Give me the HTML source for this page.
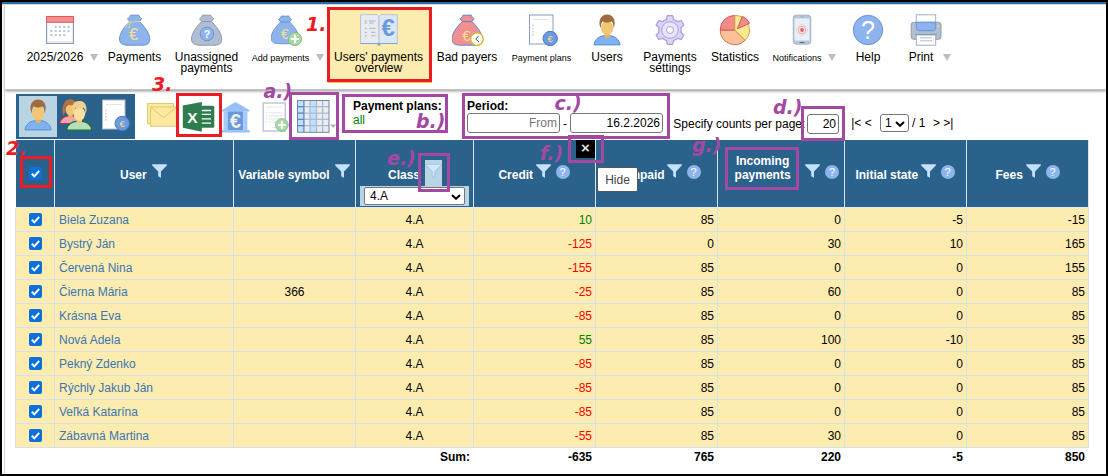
<!DOCTYPE html>
<html lang="en">
<head>
<meta charset="utf-8">
<title>Users' payments overview</title>
<style>
html,body{margin:0;padding:0;}
body{width:1108px;height:476px;overflow:hidden;background:#fff;position:relative;font-family:"Liberation Sans",Arial,sans-serif;font-size:12px;color:#000;}
.a{position:absolute;}
#page{left:0;top:0;width:1108px;height:476px;background:#fff;overflow:hidden;}
#frame{left:0;top:0;width:1108px;height:476px;box-sizing:border-box;border:2px solid #000;z-index:50;}
#topstrip{left:2px;top:2px;width:1104px;height:2px;background:#2a6ca6;border-bottom:1px solid #d9d5d5;}
#leftline{left:4px;top:5px;width:1px;height:469px;background:#d4d4d4;}
#tbshadow{left:5px;top:5px;width:1101px;height:84px;background:#fff;box-shadow:0 1px 3px rgba(0,0,0,.45);border-bottom:1px solid #c4c4c4;}
.lbl{position:absolute;top:52px;width:120px;margin-left:-60px;text-align:center;line-height:11px;font-size:12px;white-space:nowrap;}
.lbl.s{font-size:9px;top:53px;}
.ico{position:absolute;top:14px;width:32px;height:32px;margin-left:-16px;}
.arr{position:absolute;top:54px;width:0;height:0;border-left:4.5px solid transparent;border-right:4.5px solid transparent;border-top:7px solid #bdbdbd;}
.red{color:#ed1c24;font-family:"DejaVu Sans",sans-serif;font-weight:bold;font-style:italic;font-size:19px;line-height:20px;white-space:nowrap;}
.pur{color:#a349a4;font-family:"DejaVu Sans",sans-serif;font-weight:bold;font-style:italic;font-size:19px;line-height:20px;white-space:nowrap;}
.rbox{position:absolute;border:3px solid #ed1c24;box-sizing:border-box;}
.pbox{position:absolute;border:3px solid #a349a4;box-sizing:border-box;}
#sel{left:328px;top:9px;width:104px;height:72px;background:#fdecb0;border-bottom:2px solid #f5c842;}
#blk{left:16px;top:94px;width:119px;height:45px;background:#2b628c;}
#blksel{left:19px;top:96px;width:38px;height:41px;background:#b9d5e3;}
.inp{position:absolute;box-sizing:border-box;border:1px solid #767676;border-radius:3px;background:#fff;height:20px;line-height:18px;text-align:right;padding:0 2px;font-size:12px;}
table#t{position:absolute;left:15px;top:140px;border-collapse:separate;border-spacing:0;table-layout:fixed;width:1074px;}
#t th{background:#2b628c;color:#fff;font-weight:bold;font-size:12px;height:68px;padding:0;border-right:1px solid #dbe5ee;position:relative;}
#t th:first-child{border-left:1px solid #fff;}
#t td{background:#fdecb0;height:18px;padding:5px 3px 0 3px;vertical-align:top;border-right:1px solid #d6e1ec;border-bottom:1px solid #d6e1ec;font-size:12px;line-height:14px;text-align:right;white-space:nowrap;overflow:hidden;}
#t td:first-child{border-left:1px solid #d6e1ec;}
#t td.c{text-align:center;}
#t td.l{text-align:left;color:#3b76b0;padding-left:4px;}
#t td.g{color:#008000;}
#t td.r{color:#ff0000;}
#t tr.sum td{background:#fff;border-color:#fff;font-weight:bold;height:17px;vertical-align:top;padding-top:2px;}
.cb{display:block;width:13px;height:13px;margin:0 auto;}
.ht{position:absolute;top:168px;line-height:14px;color:#fff;font-weight:bold;font-size:12px;white-space:nowrap;}
.fn{position:absolute;top:164px;width:15px;height:14px;}
.q{position:absolute;top:164.5px;width:14px;height:14px;border-radius:7px;background:#8cb5ee;color:#fff;font-size:11px;line-height:15px;text-align:center;}
#clsel{left:360px;top:186px;width:109px;height:20px;background:#b9d5e3;}
.selbox{left:364px;top:187px;width:101px;height:18px;box-sizing:border-box;border:1px solid #767676;border-radius:2px;background:#fff;color:#000;padding-left:5px;line-height:16px;font-size:12px;}
</style>
</head>
<body>
<div id="page" class="a">
<div id="tbshadow" class="a"></div>
<div id="topstrip" class="a"></div>
<div id="leftline" class="a"></div>
<div id="sel" class="a"></div>
<div id="toolbar"><svg class="ico" style="left:60px" viewBox="0 0 32 32"><rect x="2.6" y="2.6" width="26.8" height="26.8" fill="#fff" stroke="#8a9cb4" stroke-width="1.2"/><path d="M3.5 27.5H28.500" stroke="#dce8f4" stroke-width="0.8"/><rect x="2.5" y="2.500" width="27" height="5.800" fill="#f78d8d" stroke="#d65f5f"/><g fill="#bccad9"><rect x="10.60" y="11.70" width="2.200" height="2.200"/><rect x="14.80" y="11.70" width="2.200" height="2.200"/><rect x="19.10" y="11.70" width="2.200" height="2.200"/><rect x="23.50" y="11.70" width="2.200" height="2.200"/><rect x="6.20" y="15.90" width="2.200" height="2.200"/><rect x="10.60" y="15.90" width="2.200" height="2.200"/><rect x="14.80" y="15.90" width="2.200" height="2.200"/><rect x="19.10" y="15.90" width="2.200" height="2.200"/><rect x="23.50" y="15.90" width="2.200" height="2.200"/><rect x="6.20" y="20.10" width="2.200" height="2.200"/><rect x="10.60" y="20.10" width="2.200" height="2.200"/><rect x="14.80" y="20.10" width="2.200" height="2.200"/><rect x="19.10" y="20.10" width="2.200" height="2.200"/></g></svg>
<svg class="ico" style="left:134.500px" viewBox="0 0 32 32"><path d="M10.8 7.5 C6 12 0.5 19 0.5 25 C0.5 29 3 31 8 31.2 L24 31.2 C29 31 30.7 29 30.7 25 C30.7 19 25 12 20.5 7.5 Z" fill="#8db4ec" stroke="#6a93d0" stroke-width="1" stroke-linejoin="round"/><path d="M11.5 1.2 L19.8 1.2 C20.5 3 21.5 4 22.7 4.8 L20.5 7.5 L10.8 7.5 L8.5 4.8 C9.8 4 10.8 3 11.5 1.2 Z" fill="#8db4ec" stroke="#6a93d0" stroke-width="1" stroke-linejoin="round"/><path d="M9 8 L21 7.500 M10.500 8 C8.500 9.500 7 12 6.500 14 M12 8 C10.500 10 10 12.500 10 14.500" fill="none" stroke="#f5dc88" stroke-width="0.900"/><text x="14.7" y="26" font-family="Liberation Sans,Arial,sans-serif" font-size="16.5" fill="#fbe08a" text-anchor="middle">€</text></svg>
<svg class="ico" style="left:207px" viewBox="0 0 32 32"><path d="M10.8 7.5 C6 12 0.5 19 0.5 25 C0.5 29 3 31 8 31.2 L24 31.2 C29 31 30.7 29 30.7 25 C30.7 19 25 12 20.5 7.5 Z" fill="#b0bdd2" stroke="#8c9ab2" stroke-width="1" stroke-linejoin="round"/><path d="M11.5 1.2 L19.8 1.2 C20.5 3 21.5 4 22.7 4.8 L20.5 7.5 L10.8 7.5 L8.5 4.8 C9.8 4 10.8 3 11.5 1.2 Z" fill="#b0bdd2" stroke="#8c9ab2" stroke-width="1" stroke-linejoin="round"/><circle cx="16" cy="20" r="6.800" fill="#8db4ec" stroke="#6a93d0"/><text x="16" y="23.800" font-family="Liberation Sans,Arial,sans-serif" font-size="10.500" font-weight="bold" fill="#fff" text-anchor="middle">?</text></svg>
<svg class="ico" style="left:287px" viewBox="0 0 32 32"><g transform="translate(-0.300,1) scale(0.920)"><path d="M10.8 7.5 C6 12 0.5 19 0.5 25 C0.5 29 3 31 8 31.2 L24 31.2 C29 31 30.7 29 30.7 25 C30.7 19 25 12 20.5 7.5 Z" fill="#8db4ec" stroke="#6a93d0" stroke-width="1" stroke-linejoin="round"/><path d="M11.5 1.2 L19.8 1.2 C20.5 3 21.5 4 22.7 4.8 L20.5 7.5 L10.8 7.5 L8.5 4.8 C9.8 4 10.8 3 11.5 1.2 Z" fill="#8db4ec" stroke="#6a93d0" stroke-width="1" stroke-linejoin="round"/><text x="15.5" y="26.5" font-family="Liberation Sans,Arial,sans-serif" font-size="15" fill="#fbe08a" text-anchor="middle">€</text></g><circle cx="24" cy="25" r="6.600" fill="#a8d8a8" stroke="#86c086"/><path d="M24 20.800 V29.200 M19.800 25 H28.200" stroke="#fff" stroke-width="2.200"/></svg>
<svg class="ico" style="left:378.500px;width:38px;margin-left:-19px" viewBox="0 0 38 32"><path d="M0.500 0.800 L17 0.500 L19 2.500 L19 29.500 L0.500 29.500 Z" fill="#e8ecf0" stroke="#b8c4d4" stroke-width="1"/><path d="M37.300 0.800 L21 0.500 L19 2.500 L19 29.500 L37.300 29.500 Z" fill="#dce8f4" stroke="#b8c4d4" stroke-width="1"/><path d="M0.500 29.500 H37.300" stroke="#7ba3dc" stroke-width="1.200"/><path d="M4.800 7H7M9 7H15.500M4.800 9H7M9 9H13.500M4.800 14.300H7M9 14.300H15.500M4.800 18.400H7M11 18.400H15.500M4.800 21.800H7M11 21.800H15.500" stroke="#a8b0bc" stroke-width="0.900"/><path d="M17.500 29.500 L20.500 29.500 L20.500 31.200 L19 31.800 L17.500 31.200 Z" fill="#7ba3dc"/><text x="28.3" y="22.3" font-family="Liberation Sans,Arial,sans-serif" font-size="24" font-weight="bold" fill="#6a9ade" text-anchor="middle">€</text></svg>
<svg class="ico" style="left:467.500px" viewBox="0 0 32 32"><g transform="translate(-0.500,0)"><path d="M10.8 7.5 C6 12 0.5 19 0.5 25 C0.5 29 3 31 8 31.2 L24 31.2 C29 31 30.7 29 30.7 25 C30.7 19 25 12 20.5 7.5 Z" fill="#f09090" stroke="#5b88cc" stroke-width="1" stroke-linejoin="round"/><path d="M11.5 1.2 L19.8 1.2 C20.5 3 21.5 4 22.7 4.8 L20.5 7.5 L10.8 7.5 L8.5 4.8 C9.8 4 10.8 3 11.5 1.2 Z" fill="#f09090" stroke="#5b88cc" stroke-width="1" stroke-linejoin="round"/><text x="15" y="26.5" font-family="Liberation Sans,Arial,sans-serif" font-size="15" fill="#fbe08a" text-anchor="middle">€</text></g><circle cx="24.900" cy="25" r="6.300" fill="#fff" stroke="#d8b840" stroke-width="1.500"/><path d="M26.800 21.800 L23.800 25 L26.800 28" fill="none" stroke="#555" stroke-width="1"/></svg>
<svg class="ico" style="left:543.500px" viewBox="0 0 32 32"><rect x="1.500" y="1" width="23.5" height="29" fill="#fff" stroke="#8a9cc0"/><path d="M5 5.500H21.5" stroke="#dfe5ee"/><g fill="#c9d3e1"><rect x="4" y="10.500" width="1.600" height="1.600"/><rect x="4" y="14" width="1.600" height="1.600"/><rect x="4" y="17" width="1.600" height="1.600"/><rect x="4" y="20" width="1.600" height="1.600"/></g><circle cx="22.2" cy="24.500" r="7.200" fill="#6a9ae0" stroke="#4a78c8"/><text x="22.2" y="27.7" font-family="Liberation Sans,Arial,sans-serif" font-size="9.5" fill="#fbe08a" text-anchor="middle">€</text></svg>
<svg class="ico" style="left:607px" viewBox="0 0 32 32"><path d="M3 30.900 C3.500 25 9 21.700 13.500 21.700 L18.500 21.700 C23 21.700 28.600 25 29.100 30.900 Z" fill="#80b2f2" stroke="#5b8bd2" stroke-width="1" stroke-linejoin="round"/><path d="M13.300 17 L13.300 22 C14.300 25 18 25 19 22 L19 17 Z" fill="#e5b35f"/><ellipse cx="16.150" cy="13.900" rx="6.100" ry="7.100" fill="#f3c673"/><path d="M9.6 14.2 C7.2 9 8.4 0.6 16.1 0.6 C23.800 0.6 25 9 22.700 14.200 L22.300 11.500 C22.200 9.800 21.600 8.600 20.700 7.600 C17.500 9 13.500 8.800 11.500 7.200 C10.700 8.600 10.100 10 10 11.500 Z" fill="#a26d3e"/></svg>
<svg class="ico" style="left:670px" viewBox="0 0 32 32"><path d="M13.40 1.53 L18.60 1.53 L19.49 5.25 L23.56 7.60 L27.23 6.51 L29.83 11.02 L27.05 13.65 L27.05 18.35 L29.83 20.98 L27.23 25.49 L23.56 24.40 L19.49 26.75 L18.60 30.47 L13.40 30.47 L12.51 26.75 L8.44 24.40 L4.77 25.49 L2.17 20.98 L4.95 18.35 L4.95 13.65 L2.17 11.02 L4.77 6.51 L8.44 7.60 L12.51 5.25 Z" fill="#dcd4f6" stroke="#ae9ee0" stroke-width="1.300" stroke-linejoin="round"/><circle cx="16" cy="16" r="8.300" fill="#eae6fa" stroke="#ae9ee0"/><circle cx="16" cy="16" r="3.500" fill="#fff" stroke="#ae9ee0"/></svg>
<svg class="ico" style="left:735px" viewBox="0 0 32 32"><path d="M15.8 16 L26.12 26.32 A14.6 14.6 0 0 1 1.20 16.00 Z" fill="#fdc098" stroke="#c87848" stroke-linejoin="round"/><path d="M15.8 16 L1.20 16.00 A14.6 14.6 0 0 1 15.80 1.40 Z" fill="#f58a8a" stroke="#d05858" stroke-linejoin="round"/><path d="M15.8 16 L15.80 1.40 A14.6 14.6 0 0 1 26.12 26.32 Z" fill="#fde890" stroke="#c8a448" stroke-linejoin="round"/><path d="M18.400000000000002 14.7 L23.38 2.37 A13.3 13.3 0 0 1 30.55 9.29 Z" fill="#f58a8a" stroke="#d05858" stroke-linejoin="round"/></svg>
<svg class="ico" style="left:802px" viewBox="0 0 32 32"><rect x="7.300" y="1.200" width="17.500" height="29" rx="3" fill="#b8c8dc" stroke="#a0b2cc"/><rect x="8.500" y="4.500" width="15" height="22" fill="#e8f0f8"/><path d="M14.500 2.800H17.500" stroke="#8fa4bf" stroke-width="0.800"/><path d="M13.500 28.500H18.500" stroke="#5a6a80" stroke-width="1"/><circle cx="16" cy="16" r="5.300" fill="none" stroke="#f8c8c8" stroke-width="0.900"/><circle cx="16" cy="16" r="3.600" fill="none" stroke="#f0a0a0" stroke-width="0.900"/><circle cx="16" cy="16" r="1.900" fill="#e86060"/></svg>
<svg class="ico" style="left:868px" viewBox="0 0 32 32"><circle cx="16" cy="16" r="14.700" fill="#8db4ee" stroke="#6a93d0"/><text x="16" y="25.300" font-family="Liberation Sans,Arial,sans-serif" font-size="25" fill="#fff" text-anchor="middle">?</text></svg>
<svg class="ico" style="left:926px" viewBox="0 0 32 32"><rect x="6.300" y="0.800" width="19.400" height="9" fill="#fff" stroke="#a0b0c4"/><rect x="1.200" y="8.300" width="29.800" height="17" rx="2.500" fill="#b0bfd4" stroke="#8c9cb4"/><path d="M6.300 8.300 H25.700 V13.500 C25.700 15.500 24.500 16.700 22.500 16.700 H9.500 C7.500 16.700 6.300 15.500 6.300 13.500 Z" fill="#8db4ee" stroke="#6a93d0"/><path d="M5.300 20.500H26.700" stroke="#7888a0" stroke-width="1.200"/><rect x="6.300" y="21" width="19.400" height="10.200" fill="#fff" stroke="#a0b0c4"/><path d="M10 23.800H22M10 26.800H22" stroke="#b0bccc"/><circle cx="28.200" cy="12" r="0.900" fill="#f5dc70"/></svg>

<div class="lbl" style="left:55px">2025/2026</div><div class="arr" style="left:89.500px"></div>
<div class="lbl" style="left:134.500px">Payments</div>
<div class="lbl" style="left:206.500px">Unassigned<br>payments</div>
<div class="lbl s" style="left:280.500px">Add payments</div><div class="arr" style="left:315.500px"></div>
<div class="lbl" style="left:378.500px">Users' payments<br>overview</div>
<div class="lbl" style="left:467px">Bad payers</div>
<div class="lbl s" style="left:541.500px">Payment plans</div>
<div class="lbl" style="left:607px">Users</div>
<div class="lbl" style="left:670px">Payments<br>settings</div>
<div class="lbl" style="left:735px">Statistics</div>
<div class="lbl s" style="left:797px">Notifications</div><div class="arr" style="left:827.500px"></div>
<div class="lbl" style="left:868px">Help</div>
<div class="lbl" style="left:921px">Print</div><div class="arr" style="left:943px"></div>
</div>
<div id="row2">
<div id="blk" class="a"></div><div id="blksel" class="a"></div>
<svg class="a" style="left:22px;top:99px;width:32px;height:32px" viewBox="0 0 32 32"><path d="M3 30.900 C3.500 25 9 21.700 13.500 21.700 L18.500 21.700 C23 21.700 28.600 25 29.100 30.900 Z" fill="#80b2f2" stroke="#5b8bd2" stroke-width="1" stroke-linejoin="round"/><path d="M13.300 17 L13.300 22 C14.300 25 18 25 19 22 L19 17 Z" fill="#e5b35f"/><ellipse cx="16.150" cy="13.900" rx="6.100" ry="7.100" fill="#f3c673"/><path d="M9.6 14.2 C7.2 9 8.4 0.6 16.1 0.6 C23.800 0.6 25 9 22.700 14.200 L22.300 11.500 C22.200 9.800 21.600 8.600 20.700 7.600 C17.500 9 13.500 8.800 11.500 7.200 C10.700 8.600 10.100 10 10 11.500 Z" fill="#a26d3e"/></svg>
<svg class="a" style="left:58px;top:98px;width:36px;height:34px" viewBox="0 0 36 34">
<g transform="translate(-0.500,0.700) scale(0.800)"><path d="M3 30.900 C3.500 25 9 21.700 13.500 21.700 L18.500 21.700 C23 21.700 28.600 25 29.100 30.900 Z" fill="#f5a3ad" stroke="#c03050" stroke-width="1.3" stroke-linejoin="round"/><path d="M13.300 17 L13.300 22 C14.300 25 18 25 19 22 L19 17 Z" fill="#e5b35f"/><ellipse cx="16.150" cy="13.900" rx="6.100" ry="7.100" fill="#f3c673"/><path d="M7 21 C5 12 7 0.6 16 0.6 C25 0.6 27 12 25 21 C23.5 20 22.3 16 22.2 12.5 C22.2 10 21.5 8.5 20.5 7.2 C17.5 8.8 13.5 8.5 11.3 6.8 C10.5 8.5 10 10.5 10.1 12.5 C10 16 8.500 20 7 21 Z" fill="#b87040"/></g>
<g transform="translate(5.800,2.500) scale(0.960)"><path d="M3 30.900 C3.500 25 9 21.700 13.500 21.700 L18.500 21.700 C23 21.700 28.600 25 29.100 30.900 Z" fill="#b8e0b8" stroke="#107030" stroke-width="1.2" stroke-linejoin="round"/><path d="M13.300 17 L13.300 22 C14.300 25 18 25 19 22 L19 17 Z" fill="#f0c77e"/><ellipse cx="16.150" cy="13.900" rx="6.100" ry="7.100" fill="#fde0a0"/><path d="M9.6 14.2 C7.2 9 8.4 0.6 16.1 0.6 C23.800 0.6 25 9 22.700 14.200 L22.300 11.500 C22.200 9.800 21.600 8.600 20.700 7.600 C17.500 9 13.500 8.800 11.500 7.200 C10.700 8.600 10.100 10 10 11.500 Z" fill="#f0d090"/></g></svg>
<svg class="a" style="left:101px;top:99px;width:32px;height:32px" viewBox="0 0 32 32"><rect x="1.500" y="1" width="22.5" height="29" fill="#fff" stroke="#b0b8c8"/><path d="M5 5.500H20.5" stroke="#dfe5ee"/><g fill="#c9d3e1"><rect x="4" y="10.500" width="1.600" height="1.600"/><rect x="4" y="14" width="1.600" height="1.600"/><rect x="4" y="17" width="1.600" height="1.600"/><rect x="4" y="20" width="1.600" height="1.600"/></g><circle cx="21.2" cy="24.500" r="7.200" fill="#6a9ae0" stroke="#4a78c8"/><text x="21.2" y="27.7" font-family="Liberation Sans,Arial,sans-serif" font-size="9.5" fill="#fbe08a" text-anchor="middle">€</text></svg>

<svg class="a" style="left:146px;top:102px;width:32px;height:26px" viewBox="0 0 32 26"><rect x="1.600" y="1.500" width="25.800" height="20.200" fill="#fdeaa0" stroke="#e0c870"/><rect x="4.600" y="5" width="27" height="19.300" fill="#fdeaa0" stroke="#e0c870"/><path d="M4.600 5 L17.500 15.500 L31 5" fill="none" stroke="#e0c870"/></svg>
<svg class="a" style="left:182px;top:101px;width:34px;height:32px" viewBox="0 0 34 32"><rect x="18" y="4.800" width="14.300" height="22" rx="1.500" fill="#2d7d4f"/><path d="M22 9.500H29M22 13.300H29M22 17.800H29M22 22.100H29" stroke="#fff" stroke-width="1.300"/><path d="M0.800 4.500 L19.800 1 L19.800 30.700 L0.800 26.800 Z" fill="#2d7d4f"/><path d="M19.800 9.500H22M19.800 13.300H22M19.800 17.800H22M19.800 22.100H22" stroke="#fff" stroke-width="1.300"/><text x="10.400" y="21.700" font-family="Liberation Sans,Arial,sans-serif" font-size="15.500" font-weight="bold" fill="#fff" text-anchor="middle">X</text></svg>
<svg class="a" style="left:221px;top:101px;width:30px;height:32px" viewBox="0 0 30 32"><path d="M14.500 1 L28.300 9 L28.300 10.500 L1 10.500 L1 9 Z" fill="#98c0f8"/><rect x="6.400" y="10.400" width="15.800" height="18.700" fill="#6898e0"/><rect x="2.500" y="10.400" width="3.900" height="18.700" fill="#a8c8f8"/><rect x="22.200" y="10.400" width="4.200" height="18.700" fill="#a8c8f8"/><rect x="1" y="29.100" width="27.700" height="2.400" fill="#98c0f8"/><text x="14.300" y="27.300" font-family="Liberation Sans,Arial,sans-serif" font-size="20" font-weight="bold" fill="#f0f0e8" text-anchor="middle">€</text></svg>
<svg class="a" style="left:261px;top:101px;width:30px;height:32px" viewBox="0 0 30 32"><rect x="2.200" y="2" width="22" height="28" fill="#fff" stroke="#c0c8d4" stroke-width="1.500"/><path d="M5 6H21M7.500 11.700H21M7.500 14.900H21M7.500 18H21M7.500 21H21M11 26.500H15" stroke="#e2e6ec"/><path d="M4.500 11.700H6M4.500 14.900H6M4.500 18H6M4.500 21H6" stroke="#d0d8e4"/><circle cx="20.900" cy="24" r="6.300" fill="#a8d8a8" stroke="#88c088"/><path d="M20.900 20 V28 M16.900 24 H24.900" stroke="#fff" stroke-width="2"/></svg>
<svg class="a" style="left:296.500px;top:99.700px;width:40px;height:33px" viewBox="0 0 40 33"><rect x="0.500" y="0.500" width="31.500" height="31.800" fill="#ececec"/><rect x="0.5" y="0.500" width="6.4" height="31.800" fill="#c0e0fc"/><rect x="13.0" y="0.500" width="6.5" height="31.800" fill="#c0e0fc"/><path d="M0.500 6.7H32M0.500 13.1H32M0.500 19.4H32M0.500 25.7H32M13.0 0.500V32.300M19.5 0.500V32.300M25.6 0.500V32.300" stroke="#a8bcd8" stroke-width="1.300"/><path d="M6.9 0.500V32.300" stroke="#6088c0" stroke-width="1.300"/><path d="M0.500 6.700H6.900M0.500 13.100H6.900M0.500 19.400H6.900M0.500 25.700H6.900" stroke="#6088c0" stroke-width="1.300"/><rect x="0.500" y="0.500" width="31.500" height="31.800" fill="none" stroke="#7088a8"/><path d="M33.200 24.500 L39.200 24.500 L36.200 28 Z" fill="#b0b0b0"/></svg>

<div class="a" style="left:353px;top:99px;font-weight:bold;line-height:14px;">Payment plans:</div>
<div class="a" style="left:353px;top:113px;color:#008000;line-height:14px;">all</div>
<div class="a" style="left:467px;top:99px;font-weight:bold;line-height:14px;">Period:</div>
<div class="inp" style="left:467px;top:113px;width:93px;color:#757575;">From</div>
<div class="a" style="left:563px;top:117px;line-height:14px;">-</div>
<div class="inp" style="left:570px;top:113px;width:93px;">16.2.2026</div>
<div class="a" style="left:673.300px;top:117px;line-height:14px;">Specify counts per page:</div>
<div class="inp" style="left:807px;top:114px;width:32px;">20</div>
<div class="a" style="left:851.200px;top:116px;line-height:14px;">|&lt; &lt;</div>
<div class="inp" style="left:880px;top:114px;width:29px;height:18px;line-height:16px;text-align:left;padding-left:4px;border-radius:3px;">1<svg style="position:absolute;right:3.500px;top:6px;width:10px;height:6px" viewBox="0 0 10 6"><path d="M1 1 L5 4.800 L9 1" fill="none" stroke="#000" stroke-width="2"/></svg></div>
<div class="a" style="left:912px;top:116px;line-height:14px;">/ 1</div>
<div class="a" style="left:933px;top:116px;line-height:14px;">&gt; &gt;|</div>
</div>
<div id="tablewrap">
<table id="t">
<colgroup><col style="width:40px"><col style="width:179px"><col style="width:122px"><col style="width:118px"><col style="width:122px"><col style="width:122px"><col style="width:127px"><col style="width:122px"><col style="width:122px"></colgroup>
<thead><tr><th></th><th></th><th></th><th></th><th></th><th></th><th></th><th></th><th></th></tr></thead>
<tbody>
<tr><td class="c"><svg class="cb" viewBox="0 0 13 13"><rect width="13" height="13" rx="2" fill="#0b70d9"/><path d="M2.8 6.8 L5.3 9.3 L10.2 3.8" fill="none" stroke="#fff" stroke-width="2"/></svg></td><td class="l">Biela Zuzana</td><td class="c"></td><td class="c">4.A</td><td class="g">10</td><td>85</td><td>0</td><td>-5</td><td>-15</td></tr>
<tr><td class="c"><svg class="cb" viewBox="0 0 13 13"><rect width="13" height="13" rx="2" fill="#0b70d9"/><path d="M2.8 6.8 L5.3 9.3 L10.2 3.8" fill="none" stroke="#fff" stroke-width="2"/></svg></td><td class="l">Bystrý Ján</td><td class="c"></td><td class="c">4.A</td><td class="r">-125</td><td>0</td><td>30</td><td>10</td><td>165</td></tr>
<tr><td class="c"><svg class="cb" viewBox="0 0 13 13"><rect width="13" height="13" rx="2" fill="#0b70d9"/><path d="M2.8 6.8 L5.3 9.3 L10.2 3.8" fill="none" stroke="#fff" stroke-width="2"/></svg></td><td class="l">Červená Nina</td><td class="c"></td><td class="c">4.A</td><td class="r">-155</td><td>85</td><td>0</td><td>0</td><td>155</td></tr>
<tr><td class="c"><svg class="cb" viewBox="0 0 13 13"><rect width="13" height="13" rx="2" fill="#0b70d9"/><path d="M2.8 6.8 L5.3 9.3 L10.2 3.8" fill="none" stroke="#fff" stroke-width="2"/></svg></td><td class="l">Čierna Mária</td><td class="c">366</td><td class="c">4.A</td><td class="r">-25</td><td>85</td><td>60</td><td>0</td><td>85</td></tr>
<tr><td class="c"><svg class="cb" viewBox="0 0 13 13"><rect width="13" height="13" rx="2" fill="#0b70d9"/><path d="M2.8 6.8 L5.3 9.3 L10.2 3.8" fill="none" stroke="#fff" stroke-width="2"/></svg></td><td class="l">Krásna Eva</td><td class="c"></td><td class="c">4.A</td><td class="r">-85</td><td>85</td><td>0</td><td>0</td><td>85</td></tr>
<tr><td class="c"><svg class="cb" viewBox="0 0 13 13"><rect width="13" height="13" rx="2" fill="#0b70d9"/><path d="M2.8 6.8 L5.3 9.3 L10.2 3.8" fill="none" stroke="#fff" stroke-width="2"/></svg></td><td class="l">Nová Adela</td><td class="c"></td><td class="c">4.A</td><td class="g">55</td><td>85</td><td>100</td><td>-10</td><td>35</td></tr>
<tr><td class="c"><svg class="cb" viewBox="0 0 13 13"><rect width="13" height="13" rx="2" fill="#0b70d9"/><path d="M2.8 6.8 L5.3 9.3 L10.2 3.8" fill="none" stroke="#fff" stroke-width="2"/></svg></td><td class="l">Pekný Zdenko</td><td class="c"></td><td class="c">4.A</td><td class="r">-85</td><td>85</td><td>0</td><td>0</td><td>85</td></tr>
<tr><td class="c"><svg class="cb" viewBox="0 0 13 13"><rect width="13" height="13" rx="2" fill="#0b70d9"/><path d="M2.8 6.8 L5.3 9.3 L10.2 3.8" fill="none" stroke="#fff" stroke-width="2"/></svg></td><td class="l">Rýchly Jakub Ján</td><td class="c"></td><td class="c">4.A</td><td class="r">-85</td><td>85</td><td>0</td><td>0</td><td>85</td></tr>
<tr><td class="c"><svg class="cb" viewBox="0 0 13 13"><rect width="13" height="13" rx="2" fill="#0b70d9"/><path d="M2.8 6.8 L5.3 9.3 L10.2 3.8" fill="none" stroke="#fff" stroke-width="2"/></svg></td><td class="l">Veľká Katarína</td><td class="c"></td><td class="c">4.A</td><td class="r">-85</td><td>85</td><td>0</td><td>0</td><td>85</td></tr>
<tr><td class="c"><svg class="cb" viewBox="0 0 13 13"><rect width="13" height="13" rx="2" fill="#0b70d9"/><path d="M2.8 6.8 L5.3 9.3 L10.2 3.8" fill="none" stroke="#fff" stroke-width="2"/></svg></td><td class="l">Zábavná Martina</td><td class="c"></td><td class="c">4.A</td><td class="r">-55</td><td>85</td><td>30</td><td>0</td><td>85</td></tr>
<tr class="sum"><td></td><td></td><td></td><td>Sum:</td><td>-635</td><td>765</td><td>220</td><td>-5</td><td>850</td></tr>
</tbody>
</table>
<div class="a" style="left:16px;top:207px;width:1073px;height:1px;background:#e3eaf0"></div>
<div class="a" style="left:29px;top:167px;width:13px;height:13px"><svg class="cb" viewBox="0 0 13 13"><rect width="13" height="13" rx="2" fill="#0b70d9"/><path d="M2.8 6.8 L5.3 9.3 L10.2 3.8" fill="none" stroke="#fff" stroke-width="2"/></svg></div>
<div class="ht" style="left:120px">User</div><svg class="fn" style="left:151.7px" viewBox="0 0 15 14"><path d="M0.2 0.2 H14.8 V1.5 L9 7.5 V13.8 L6.2 12.3 V7.5 L0.2 1.5 Z" fill="#c4e2ff"/></svg>
<div class="ht" style="left:238.3px">Variable symbol</div><svg class="fn" style="left:335px" viewBox="0 0 15 14"><path d="M0.2 0.2 H14.8 V1.5 L9 7.5 V13.8 L6.2 12.3 V7.5 L0.2 1.5 Z" fill="#c4e2ff"/></svg>
<div class="a" style="left:425px;top:160px;width:17px;height:26px;background:#b9d5e3"></div>
<div class="ht" style="left:388px">Class</div><svg class="fn" style="left:426.2px" viewBox="0 0 15 14"><path d="M0.2 0.2 H14.8 V1.5 L9 7.5 V13.8 L6.2 12.3 V7.5 L0.2 1.5 Z" fill="#d2e8ff" stroke="#8db6e6" stroke-width="0.8"/></svg>
<div id="clsel" class="a"></div><div class="selbox a">4.A<svg style="position:absolute;right:3.5px;top:6px;width:10px;height:6px" viewBox="0 0 10 6"><path d="M1 1 L5 4.8 L9 1" fill="none" stroke="#000" stroke-width="2"/></svg></div>
<div class="ht" style="left:498.4px">Credit</div><svg class="fn" style="left:536px" viewBox="0 0 15 14"><path d="M0.2 0.2 H14.8 V1.5 L9 7.5 V13.8 L6.2 12.3 V7.5 L0.2 1.5 Z" fill="#c4e2ff"/></svg><div class="q" style="left:555.5px">?</div>
<div class="ht" style="left:624px">Unpaid</div><svg class="fn" style="left:667px" viewBox="0 0 15 14"><path d="M0.2 0.2 H14.8 V1.5 L9 7.5 V13.8 L6.2 12.3 V7.5 L0.2 1.5 Z" fill="#c4e2ff"/></svg><div class="q" style="left:686.5px">?</div>
<div class="ht" style="left:734.6px;top:154px;text-align:center">Incoming<br>payments</div><svg class="fn" style="left:805px" viewBox="0 0 15 14"><path d="M0.2 0.2 H14.8 V1.5 L9 7.5 V13.8 L6.2 12.3 V7.5 L0.2 1.5 Z" fill="#c4e2ff"/></svg><div class="q" style="left:825px">?</div>
<div class="ht" style="left:855.4px">Initial state</div><svg class="fn" style="left:921px" viewBox="0 0 15 14"><path d="M0.2 0.2 H14.8 V1.5 L9 7.5 V13.8 L6.2 12.3 V7.5 L0.2 1.5 Z" fill="#c4e2ff"/></svg><div class="q" style="left:940.5px">?</div>
<div class="ht" style="left:995.5px">Fees</div><svg class="fn" style="left:1026px" viewBox="0 0 15 14"><path d="M0.2 0.2 H14.8 V1.5 L9 7.5 V13.8 L6.2 12.3 V7.5 L0.2 1.5 Z" fill="#c4e2ff"/></svg><div class="q" style="left:1045.5px">?</div>
<div class="a" style="left:576px;top:140px;width:19px;height:18px;background:#000;color:#dedede;font-weight:bold;font-size:15px;line-height:15px;text-align:center;">×</div>
<div class="a" style="left:597px;top:167px;width:41px;height:25px;box-sizing:border-box;border:1px solid #585858;border-radius:2px;background:#fff;color:#444;font-size:12px;line-height:25px;text-align:center;">Hide</div>
</div>
<div id="annot">
<div class="rbox" style="left:327px;top:7px;width:105px;height:75px"></div>
<div class="rbox" style="left:176px;top:93px;width:46px;height:44px"></div>
<div class="rbox" style="left:20px;top:156px;width:32px;height:32px"></div>
<div class="pbox" style="left:289px;top:92px;width:50px;height:48px"></div>
<div class="pbox" style="left:342px;top:94px;width:106px;height:39px"></div>
<div class="pbox" style="left:462px;top:93px;width:208px;height:46px"></div>
<div class="pbox" style="left:801px;top:106px;width:44px;height:35px"></div>
<div class="pbox" style="left:418px;top:153px;width:32px;height:39px"></div>
<div class="pbox" style="left:568px;top:135px;width:36px;height:28px"></div>
<div class="pbox" style="left:725px;top:147px;width:74px;height:43px"></div>

<div class="a red" id="n1" style="left:306px;top:14px">1.</div>
<div class="a red" id="n2" style="left:6px;top:138px">2.</div>
<div class="a red" id="n3" style="left:152px;top:74px">3.</div>
<div class="a pur" id="na" style="left:263.5px;top:81px">a.)</div>
<div class="a pur" id="nb" style="left:416px;top:111px">b.)</div>
<div class="a pur" id="nc" style="left:554.5px;top:92.5px">c.)</div>
<div class="a pur" id="nd" style="left:773px;top:96.5px">d.)</div>
<div class="a pur" id="ne" style="left:387px;top:147.5px">e.)</div>
<div class="a pur" id="nf" style="left:540px;top:142.5px">f.)</div>
<div class="a pur" id="ng" style="left:692px;top:135px">g.)</div>
</div>
<div id="frame" class="a"></div>
</div>
</body>
</html>
